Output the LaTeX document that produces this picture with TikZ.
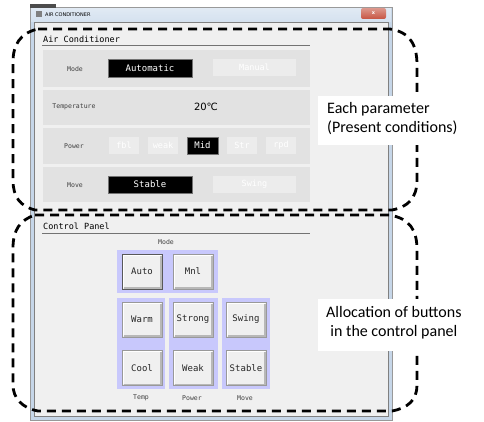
\documentclass[tikz,border=0pt]{standalone}
\usepackage{fontspec}
\setmainfont{Carlito}
\newfontfamily\gothic{DejaVu Sans Mono}
\newfontfamily\uisans{DejaVu Sans}
\definecolor{clientbg}{HTML}{F0F0F0}
\definecolor{panelbg}{HTML}{E2E2E2}
\definecolor{inactbg}{HTML}{ECECEC}
\definecolor{lavender}{RGB}{200,200,252}
\definecolor{framebg}{HTML}{C6D6E8}
\definecolor{titlebg}{HTML}{D4E1EF}
\definecolor{closered}{HTML}{C75441}
\begin{document}
\begin{tikzpicture}[x=1pt,y=-1pt,
  plabel/.style={font=\gothic\fontsize{6.5}{7}\selectfont, text=black!75},
  selbox/.style={draw=black!55, fill=black, text=white, font=\gothic\fontsize{9}{10}\selectfont, inner sep=0pt},
  offbox/.style={fill=inactbg, text=white, font=\gothic\fontsize{8.5}{10}\selectfont, inner sep=0pt},
  btn/.style={draw=black!40, fill=clientbg, minimum width=40pt, minimum height=35pt, inner sep=0pt, font=\gothic\fontsize{9}{10}\selectfont, text=black!85,
    path picture={
      \draw[white, line width=1.2pt] ([xshift=1pt,yshift=1.5pt]path picture bounding box.south west) |- ([xshift=-1.5pt,yshift=-1pt]path picture bounding box.north east);
      \draw[black!28, line width=1.2pt] ([xshift=1.5pt,yshift=1pt]path picture bounding box.south west) -| ([xshift=-1pt,yshift=-1.5pt]path picture bounding box.north east);
    }},
  dashreg/.style={draw=black, line width=2.8pt, dash pattern=on 9pt off 6pt},
  callout/.style={fill=white, inner sep=0pt, anchor=north west},
  callouttext/.style={anchor=north west, font=\fontsize{16}{19}\selectfont, inner sep=0pt}
]
\useasboundingbox (0,0) rectangle (484,422);
\fill[white] (0,0) rectangle (484,422);
% window
\fill[framebg] (30,7) rectangle (392,420);
\shade[top color=titlebg!70!white, bottom color=titlebg] (31,8) rectangle (391,22);
\fill[clientbg] (34,22) rectangle (388,416);
\draw[black!40] (30,7) rectangle (392,420);
\draw[black!50] (34,22) rectangle (388,416);
\fill[black!70] (30,4) rectangle (56,8);
\fill[black!50] (36,11) rectangle (42,17);
\node[anchor=west, font=\uisans\fontsize{5}{6}\selectfont, inner sep=0pt] (title) at (45,14.5) {AIR CONDITIONER};
\shade[top color=closered!60!white, bottom color=closered, rounded corners=2pt] (361,8) rectangle (386,19);
\node[font=\uisans\bfseries\fontsize{5}{6}\selectfont, text=white, inner sep=0pt] (close) at (373.5,13.5) {x};
% air conditioner group
\node[anchor=west, font=\gothic\fontsize{8.5}{10}\selectfont, inner sep=0pt] (acg) at (43,39) {Air Conditioner};
\draw[black!55] (42,45.5) -- (310,45.5);
\fill[panelbg] (43,50) rectangle (310,87);
\fill[panelbg] (43,90) rectangle (310,125);
\fill[panelbg] (43,128) rectangle (310,164);
\fill[panelbg] (43,167) rectangle (310,202);
% mode row
\node[plabel] (model) at (75,69) {Mode};
\node[selbox, minimum width=84pt, minimum height=18pt] (auto) at (150,68) {Automatic};
\node[offbox, minimum width=83pt, minimum height=17pt] (manual) at (254.5,67.5) {Manual};
% temperature row
\node[plabel] (templ) at (74,107) {Temperature};
\node[font=\uisans\fontsize{10}{11}\selectfont, inner sep=0pt] (tval) at (206,107) {20℃};
% power row
\node[plabel] (powl) at (74,146) {Power};
\node[offbox, minimum width=30pt, minimum height=17pt] (fbl) at (124,145.5) {fbl};
\node[offbox, minimum width=30pt, minimum height=17pt] (weak) at (163,145.5) {weak};
\node[selbox, minimum width=31pt, minimum height=17pt] (mid) at (202.5,145.5) {Mid};
\node[offbox, minimum width=30pt, minimum height=17pt] (str) at (242,145.5) {Str};
\node[offbox, minimum width=30pt, minimum height=17pt] (rpd) at (281,145.5) {rpd};
% move row
\node[plabel] (movel) at (75,185) {Move};
\node[selbox, minimum width=84pt, minimum height=17pt] (stable) at (150,184.5) {Stable};
\node[offbox, minimum width=83pt, minimum height=17pt] (swing) at (254.5,184.5) {Swing};
% control panel group
\node[anchor=west, font=\gothic\fontsize{8.5}{10}\selectfont, inner sep=0pt] (cpg) at (43,226) {Control Panel};
\draw[black!55] (42,233.5) -- (310,233.5);
\node[plabel] (mlab) at (166,242) {Mode};
\fill[lavender] (117,250) rectangle (218,293);
\fill[lavender] (117,298) rectangle (165,389);
\fill[lavender] (169,298) rectangle (218,389);
\fill[lavender] (222,298) rectangle (270,389);
\node[btn] (bauto) at (142,271.5) {Auto};
\draw[black!65] (bauto.south west) rectangle (bauto.north east);
\node[btn] (bmnl) at (193,271.5) {Mnl};
\node[btn] (bwarm) at (142,319.5) {Warm};
\node[btn] (bcool) at (142,368) {Cool};
\node[btn] (bstrong) at (193,319.5) {Strong};
\node[btn] (bweak) at (193,368) {Weak};
\node[btn] (bswing) at (246,319.5) {Swing};
\node[btn] (bstable) at (246,368) {Stable};
\node[plabel] (tlab) at (141,398) {Temp};
\node[plabel] (plab) at (192,398) {Power};
\node[plabel] (mvlab) at (245,398) {Move};
% dashed regions
\draw[dashreg] (38,29) -- (390,29) .. controls (410,32) and (417,45) .. (417,65) -- (417,180) .. controls (417,198) and (408,207) .. (392,210) -- (35,210) .. controls (20,206) and (13,197) .. (13,180) -- (13,62) .. controls (13,45) and (20,33) .. (38,29);
\draw[dashreg] (35,215) -- (390,215) .. controls (410,219) and (417,230) .. (417,250) -- (417,385) .. controls (417,400) and (408,408) .. (392,411) -- (38,411) .. controls (22,408) and (13,398) .. (13,385) -- (13,248) .. controls (13,230) and (20,220) .. (35,215);
% callouts
\node[callout, minimum width=157pt, minimum height=49pt] (c1) at (318,96) {};
\node[callouttext, align=left] (c1t) at (327,102) {Each parameter\\(Present conditions)};
\node[callout, minimum width=166pt, minimum height=52pt] (c2) at (318,299) {};
\node[callouttext, align=center] (c2t) at (326,306) {Allocation of buttons\\in the control panel};
\end{tikzpicture}
\end{document}
